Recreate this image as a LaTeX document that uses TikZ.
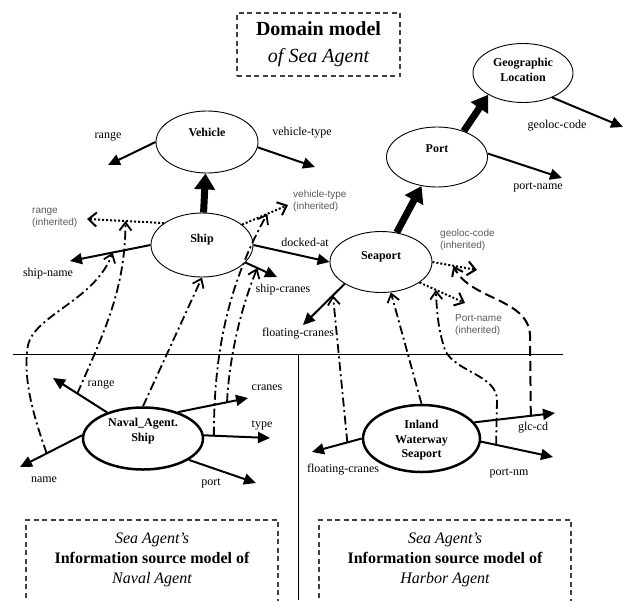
\documentclass[tikz,border=0pt]{standalone}
\usepackage{fontspec}
\setmainfont{Liberation Serif}
\setsansfont{Liberation Sans}
\usetikzlibrary{arrows.meta,shapes.geometric}

\begin{document}
\begin{tikzpicture}[x=1pt,y=-1pt,
                    cls/.style={ellipse,draw,line width=.9pt,inner sep=0pt,font=\fontsize{12}{14.5}\selectfont\bfseries},
                    src/.style={cls,line width=2.5pt},
                    attr/.style={line width=2pt,-{Triangle[length=12pt,width=11pt]}},
                    isa/.style={line width=7pt,-{Triangle[length=16pt,width=20pt]}},
                    inh/.style={line width=2pt,dash pattern=on 2pt off 2pt,-{Straight Barb[length=8pt,width=14pt]}},
                    map/.style={line width=1.8pt,dash pattern=on 9pt off 3.5pt on 2pt off 3.5pt,-{Straight Barb[length=8pt,width=12pt]}},
                    mapd/.style={line width=2pt,dash pattern=on 10pt off 5pt,-{Straight Barb[length=8pt,width=12pt]}},
                    lbl/.style={inner sep=0pt,font=\fontsize{12}{14}\selectfont},
                    ilbl/.style={inner sep=0pt,anchor=west,align=left,text=black!65,font=\sffamily\fontsize{10}{12}\selectfont},
                    dbox/.style={line width=1.3pt,draw=black!75,dash pattern=on 5pt off 3.5pt}]
                    \useasboundingbox (0,0) rectangle (629,600);

                    \node[dbox,minimum width=163pt,minimum height=63pt,align=center,font=\fontsize{20}{27}\selectfont] (title) at (318.5,44.5) {{\bfseries Domain model}\\{\itshape of Sea Agent}};

                    \node[cls,minimum width=102pt,minimum height=62pt] (vehicle) at (207,142) {\raisebox{6pt}[0pt][0pt]{Vehicle}};
                    \node[cls,minimum width=100pt,minimum height=59pt] (geo) at (523,73) {\raisebox{-8pt}[0pt][0pt]{\begin{tabular}[b]{@{}c@{}}Geographic\\Location\end{tabular}}};
                    \node[cls,minimum width=101pt,minimum height=60pt] (port) at (437,157) {\raisebox{5pt}[0pt][0pt]{Port}};
                    \node[cls,minimum width=102pt,minimum height=64pt] (ship) at (202,245) {\raisebox{3pt}[0pt][0pt]{Ship}};
                    \node[cls,minimum width=102pt,minimum height=61pt] (seaport) at (381,262) {\raisebox{3pt}[0pt][0pt]{Seaport}};
                    \node[src,minimum width=120pt,minimum height=62pt] (naval) at (143,438.5) {\raisebox{-2.5pt}[0pt][0pt]{\begin{tabular}[b]{@{}c@{}}Naval\_Agent.\\Ship\end{tabular}}};
                    \node[src,minimum width=117pt,minimum height=67pt] (inland) at (421.5,438.5) {\raisebox{-19pt}[0pt][0pt]{\begin{tabular}[b]{@{}c@{}}Inland\\Waterway\\Seaport\end{tabular}}};

                    \coordinate (vrange-e) at (108,165);
                    \coordinate (vtype-e) at (315,167);
                    \coordinate (geo-e) at (623,127);
                    \coordinate (pname-e) at (562,178);
                    \coordinate (sname-e) at (70,261);
                    \coordinate (scranes-e) at (277,277);
                    \coordinate (rinh-e) at (87,219);
                    \coordinate (vinh-e) at (288,205);
                    \coordinate (sfloat-e) at (303,325);
                    \coordinate (ginh-e) at (477,270);
                    \coordinate (pinh-e) at (465,303);
                    \coordinate (nrange-e) at (53,378);
                    \coordinate (ncranes-e) at (248,398);
                    \coordinate (ntype-e) at (270,438);
                    \coordinate (nname-e) at (20,467);
                    \coordinate (nport-e) at (256,483);
                    \coordinate (ifloat-e) at (312,452);
                    \coordinate (iglc-e) at (555,413);
                    \coordinate (inm-e) at (553,457);

                    \node[lbl] (vrange-l) at (108,137) {range};
                    \node[lbl] (vtype-l) at (302,133) {vehicle-type};
                    \node[lbl] (geo-l) at (557,126) {geoloc-code};
                    \node[lbl] (pname-l) at (538,187) {port-name};
                    \node[lbl] (sname-l) at (48,274) {ship-name};
                    \node[lbl] (docked-l) at (305,242) {docked-at};
                    \node[lbl] (scranes-l) at (283,290) {ship-cranes};
                    \node[lbl] (sfloat-l) at (298,334) {floating-cranes};
                    \node[lbl] (nrange-l) at (101,385) {range};
                    \node[lbl] (ncranes-l) at (267,388) {cranes};
                    \node[lbl] (ntype-l) at (262,425) {type};
                    \node[lbl] (nname-l) at (44,480) {name};
                    \node[lbl] (nport-l) at (211,483) {port};
                    \node[lbl] (iglc-l) at (533,428) {glc-cd};
                    \node[lbl] (inm-l) at (509,473) {port-nm};
                    \node[lbl] (ifloat-l) at (343,470) {floating-cranes};

                    \node[ilbl] (rinh-l) at (32,217.5) {range\\(inherited)};
                    \node[ilbl] (vinh-l) at (293,201) {vehicle-type\\(inherited)};
                    \node[ilbl] (ginh-l) at (440,239.5) {geoloc-code\\(inherited)};
                    \node[ilbl] (pinh-l) at (455,325) {Port-name\\(inherited)};

                    \draw[attr] (vehicle.180) -- (vrange-e);
                    \draw[attr] (vehicle.-6) -- (vtype-e);
                    \draw[attr] (geo.-40) -- (geo-e);
                    \draw[attr] (port.4) -- (pname-e);
                    \draw[attr] (ship.180) -- coordinate[pos=.47] (sname-m) (sname-e);
                    \draw[attr] (ship.east) -- (seaport.west);
                    \draw[attr] (ship.-22) -- coordinate[pos=.38] (scranes-m) (scranes-e);
                    \draw[attr] (seaport.211) -- coordinate[pos=.28] (sfloat-m) (sfloat-e);

                    \draw[inh] (ship.150) -- coordinate[pos=.5] (rinh-m) (rinh-e);
                    \draw[inh] (ship.27) -- coordinate[pos=.55] (vinh-m) (vinh-e);
                    \draw[inh] (seaport.east) -- coordinate[pos=.47] (ginh-m) (ginh-e);
                    \draw[inh] (seaport.-28) -- coordinate[pos=.36] (pinh-m) (pinh-e);

                    \draw[isa] (ship) -- (vehicle);
                    \draw[isa] (seaport) -- (port);
                    \draw[isa] (port.44) -- (geo.212);

                    \draw[attr] (naval.144) -- coordinate[pos=.55] (nrange-m) (nrange-e);
                    \draw[attr] (naval.37) -- coordinate[pos=.7] (ncranes-m) (ncranes-e);
                    \draw[attr] (naval.3) -- coordinate[pos=.15] (ntype-m) (ntype-e);
                    \draw[attr] (naval.177) -- coordinate[pos=.57] (nname-m) (nname-e);
                    \draw[attr] (naval.-25) -- (nport-e);
                    \draw[attr] (inland.180) -- coordinate[pos=.29] (ifloat-m) (ifloat-e);
                    \draw[attr] (inland.17) -- coordinate[pos=.7] (iglc-m) (iglc-e);
                    \draw[attr] (inland.-3) -- coordinate[pos=.21] (inm-m) (inm-e);

                    \draw[map] (nname-m) .. controls (35,420) and (22,380) .. (28,345) .. controls (35,315) and (95,300) .. (sname-m);
                    \draw[map] (nrange-m) .. controls (105,330) and (125,290) .. (rinh-m);
                    \draw[map] (naval.north) -- (ship.south);
                    \draw[map] (ntype-m) .. controls (214,360) and (225,290) .. (vinh-m);
                    \draw[map] (ncranes-m) .. controls (229,360) and (240,310) .. (scranes-m);
                    \draw[map] (ifloat-m) -- (sfloat-m);
                    \draw[map] (inland.north) -- (seaport.-72);
                    \draw[map] (inm-m) -- (497,400) .. controls (497,375) and (455,372) .. (445,350) .. controls (440,335) and (437,320) .. (pinh-m);
                    \draw[mapd] (iglc-m) -- (530,335) .. controls (528,298) and (470,300) .. (ginh-m);

                    \draw[line width=1pt] (13,354) -- (563,354);
                    \draw[line width=1pt] (298,354) -- (298,600);

                    \draw[dbox] (26,606) |- (278,520) -- (278,606);
                    \draw[dbox] (319,606) |- (571,520) -- (571,606);
                    \node[align=center,font=\fontsize{16}{20}\selectfont] (navalsrc) at (152,560) {{\itshape Sea Agent’s}\\{\bfseries Information source model of}\\{\itshape Naval Agent}};
                    \node[align=center,font=\fontsize{16}{20}\selectfont] (harborsrc) at (445,560) {{\itshape Sea Agent’s}\\{\bfseries Information source model of}\\{\itshape Harbor Agent}};

                \end{tikzpicture}
\end{document}
